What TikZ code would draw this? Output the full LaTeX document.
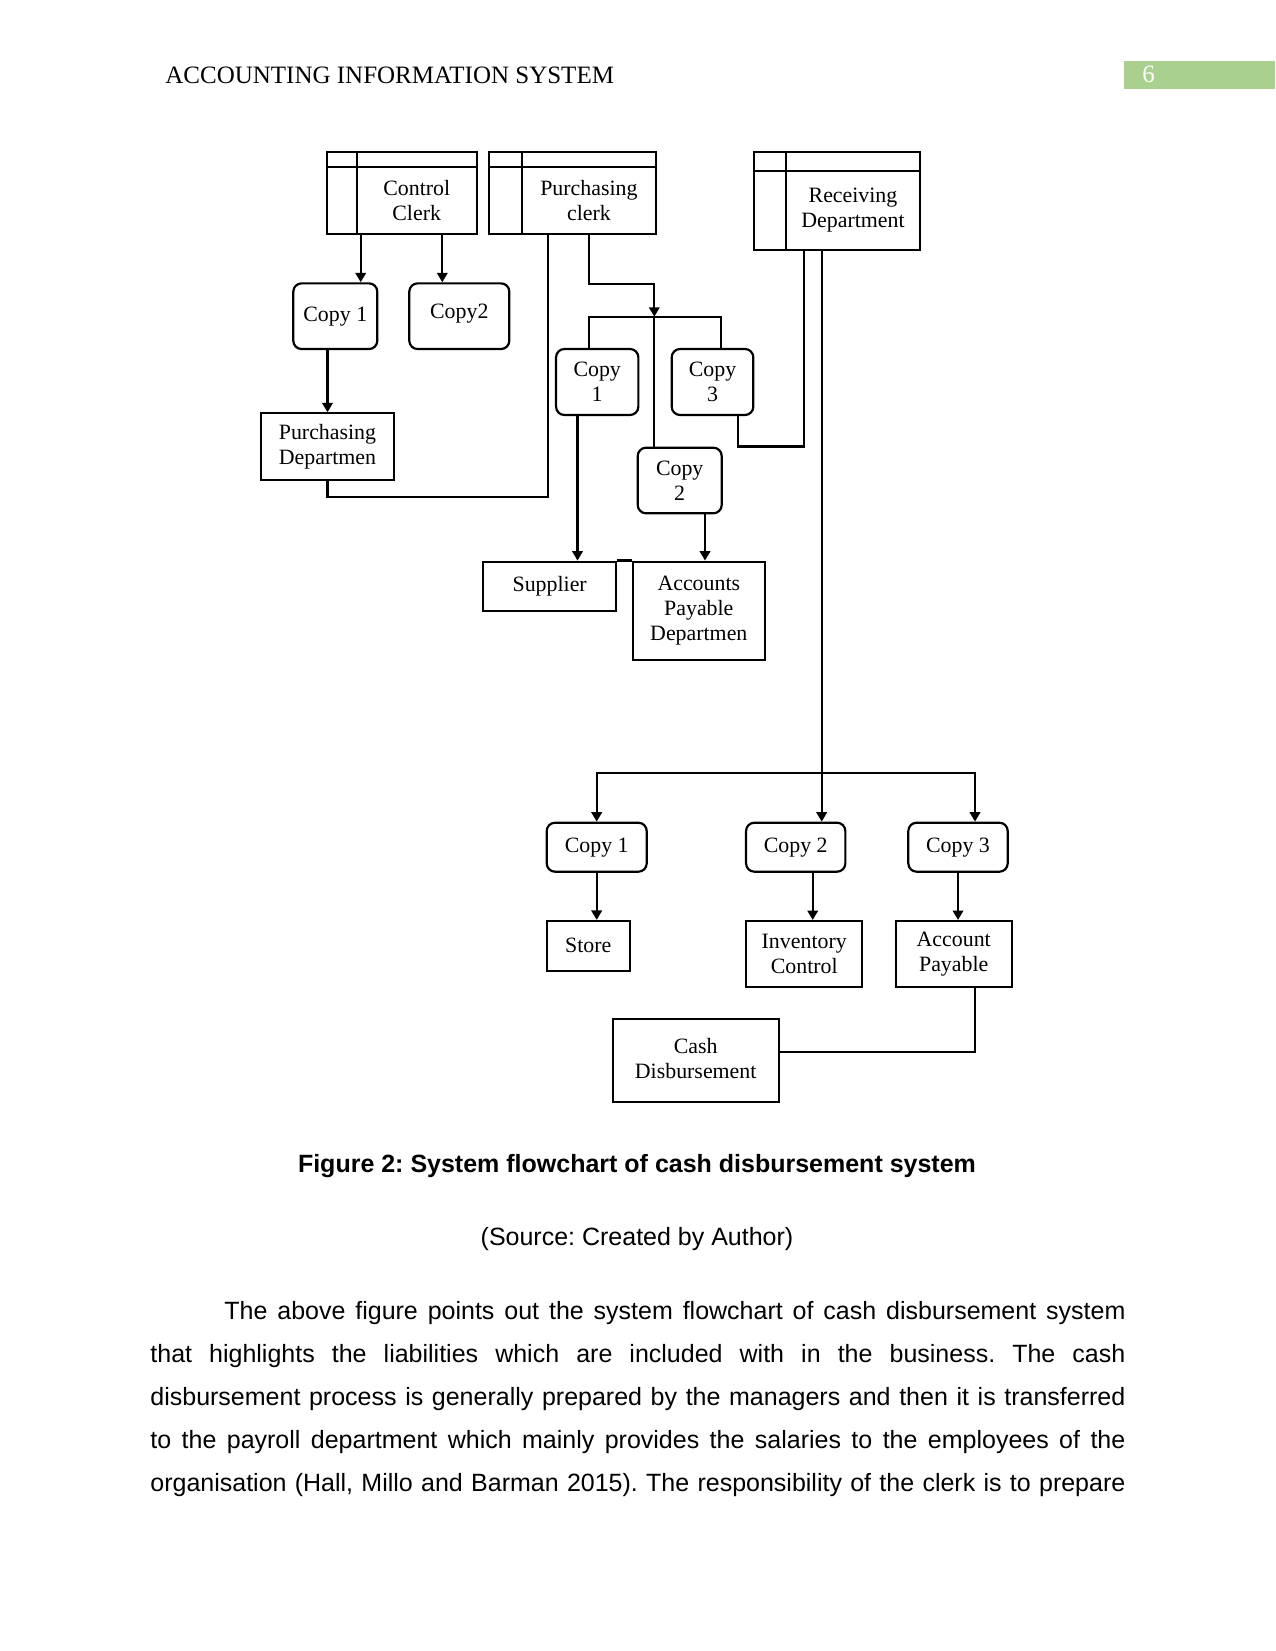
\documentclass[tikz,border=0pt]{standalone}
\usepackage{fontspec}
\setmainfont{Liberation Serif}
\newfontfamily\arialfont{Liberation Sans}
\usetikzlibrary{arrows.meta,calc}
\definecolor{headgreen}{RGB}{169,208,142}
\frenchspacing

\begin{document}
\begin{tikzpicture}[x=0.48pt, y=-0.48pt,
	every node/.style={font=\fontsize{10.5}{12}\selectfont, inner sep=0pt, align=center},
	>={Triangle[length=4.5pt,width=5pt]},
	sz/.style 2 args={minimum width=#1*0.48pt, minimum height=#2*0.48pt},
	flow/.style={line width=1.05pt},
	cell/.style={draw, flow, outer sep=0pt},
	copybox/.style={draw, flow, rounded corners=4pt},
	plainbox/.style={draw, flow}]
	\path[use as bounding box, fill=white] (0,0) rectangle (1275,1651);

	% running head
	\node[anchor=base west, font=\fontsize{12}{14}\selectfont] (runhead) at (165,84) {ACCOUNTING INFORMATION SYSTEM};
	\node[anchor=west, fill=headgreen, text=white, sz={151}{27.5}, text width=115*0.48pt, align=left, font=\fontsize{12}{14}\selectfont] (pagenum) at (1124,74.8) {6};

	% clerks and departments
	\node[cell, sz={120}{67.6}] (cclerk) at (416.7,200.5) {Control\\Clerk};
	\node[cell, sz={134.3}{67.6}] (pclerk) at (588.9,200.5) {Purchasing\\clerk};
	\node[cell, sz={134}{79}] (rdept) at (853,210.5) {\raisebox{4pt}{\begin{tabular}{@{}c@{}}Receiving\\Department\end{tabular}}};
	\draw[flow] (cclerk.south west) -- ++(-30,0) |- ($(cclerk.north east)+(0,-15)$) -- (cclerk.north east);
	\draw[flow] (cclerk.north west) -- ++(0,-15) (cclerk.north west) -- ++(-30,0);
	\draw[flow] (pclerk.south west) -- ++(-32.4,0) |- ($(pclerk.north east)+(0,-15)$) -- (pclerk.north east);
	\draw[flow] (pclerk.north west) -- ++(0,-15) (pclerk.north west) -- ++(-32.4,0);
	\draw[flow] (rdept.south west) -- ++(-32.3,0) |- ($(rdept.north east)+(0,-19.3)$) -- (rdept.north east);
	\draw[flow] (rdept.north west) -- ++(0,-19.3) (rdept.north west) -- ++(-32.3,0);

	% copies and receivers
	\node[copybox, sz={84}{65.7}] (copyA) at (335.3,316.2) {Copy 1};
	\node[copybox, sz={100}{65.7}] (copyB) at (459.3,316.2) {\raisebox{4.5pt}{Copy2}};
	\node[plainbox, sz={133}{66.7}] (purdept) at (327.5,446.7) {Purchasing\\Departmen};
	\node[copybox, sz={82.3}{66}] (copyC) at (597.2,382) {Copy\\1};
	\node[copybox, sz={81.6}{66}] (copyD) at (712.5,382) {Copy\\3};
	\node[copybox, sz={84}{65.6}] (copyE) at (679.7,480.5) {Copy\\2};
	\node[plainbox, sz={132.7}{49.3}] (supplier) at (549.7,586.3) {Supplier};
	\node[plainbox, sz={132.3}{98.3}] (apdept) at (698.8,610.8) {Accounts\\Payable\\Departmen};
	\node[copybox, sz={100}{49}] (copyF) at (596.7,847.2) {Copy 1};
	\node[copybox, sz={99.3}{49}] (copyG) at (795.7,847.2) {Copy 2};
	\node[copybox, sz={99.4}{49}] (copyH) at (958,847.2) {Copy 3};
	\node[plainbox, sz={83.3}{49.7}] (store) at (588.3,945.8) {Store};
	\node[plainbox, sz={116.3}{66.3}] (invctrl) at (804.2,954.2) {Inventory\\Control};
	\node[plainbox, sz={116}{66.3}] (accpay) at (953.7,954.2) {Account\\Payable};
	\node[plainbox, sz={166}{82.4}] (cashdis) at (695.7,1060.5) {\raisebox{4pt}{\begin{tabular}{@{}c@{}}Cash\\Disbursement\end{tabular}}};

	% bends of the connectors
	\coordinate (ccA) at (360.7,0);
	\coordinate (ccB) at (442.3,0);
	\coordinate (pdturn) at (548.3,496.7);
	\coordinate (pcturn) at (654.3,284);
	\coordinate (split) at (654.3,316.7);
	\coordinate (barL) at (589,316.7);
	\coordinate (barR) at (720.7,316.7);
	\coordinate (supx) at (577.5,0);
	\coordinate (apx) at (705,0);
	\coordinate (c3turn) at (738.3,446.5);
	\coordinate (rdA) at (804,446.5);
	\coordinate (hub) at (821.7,773.3);
	\coordinate (hubR) at (975,773.3);
	\coordinate (icx) at (812.7,0);
	\coordinate (cdturn) at (975,1052.3);

	\draw[flow, ->] (cclerk.south -| ccA) -- (copyA.north -| ccA);
	\draw[flow, ->] (cclerk.south -| ccB) -- (copyB.north -| ccB);
	\draw[flow, ->] (copyA.south -| purdept.north) -- (purdept.north);
	\draw[flow] (purdept.south) |- (pdturn) -- (pdturn |- pclerk.south);
	\draw[flow, ->] (pclerk.south -| barL) |- (pcturn) -- (split);
	\draw[flow] (copyC.north -| barL) -- (barL) -- (barR) -- (copyD.north -| barR);
	\draw[flow] (split) -- (copyE.north -| split);
	\draw[flow, ->] (copyC.south -| supx) -- (supplier.north -| supx);
	\draw[flow, ->] (copyE.south -| apx) -- (apdept.north -| apx);
	\draw[flow] (supplier.north east) -- (apdept.north west);
	\draw[flow] (copyD.south -| c3turn) -- (c3turn) -- (rdA) -- (rdept.south -| rdA);
	\draw[flow, ->] (rdept.south -| hub) -- (copyG.north -| hub);
	\draw[flow, ->] (hub) -| (copyF.north);
	\draw[flow, ->] (hub) -| (copyH.north -| hubR);
	\draw[flow, ->] (copyF.south) -- (copyF.south |- store.north);
	\draw[flow, ->] (copyG.south -| icx) -- (invctrl.north -| icx);
	\draw[flow, ->] (copyH.south) -- (copyH.south |- accpay.north);
	\draw[flow] (accpay.south -| cdturn) -- (cdturn) -- (cashdis.east |- cdturn);

	% caption and text
	\node[anchor=base, font=\arialfont\fontsize{12}{14}\selectfont\bfseries] (caption) at (637,1172) {Figure 2: System flowchart of cash disbursement system};
	\node[anchor=base, font=\arialfont\fontsize{12}{14}\selectfont] (source) at (637,1245) {(Source: Created by Author)};
	\node[anchor=base west, text width=468pt, align=justify, font=\arialfont\fontsize{12}{20.7}\selectfont] (body) at (150,1319) {\parfillskip=0pt \hspace*{35.5pt}The above figure points out the system flowchart of cash disbursement system\linebreak that highlights the liabilities which are included with in the business. The cash\linebreak disbursement process is generally prepared by the managers and then it is transferred\linebreak to the payroll department which mainly provides the salaries to the employees of the\linebreak organisation (Hall, Millo and Barman 2015). The responsibility of the clerk is to prepare\par};
\end{tikzpicture}
\end{document}
